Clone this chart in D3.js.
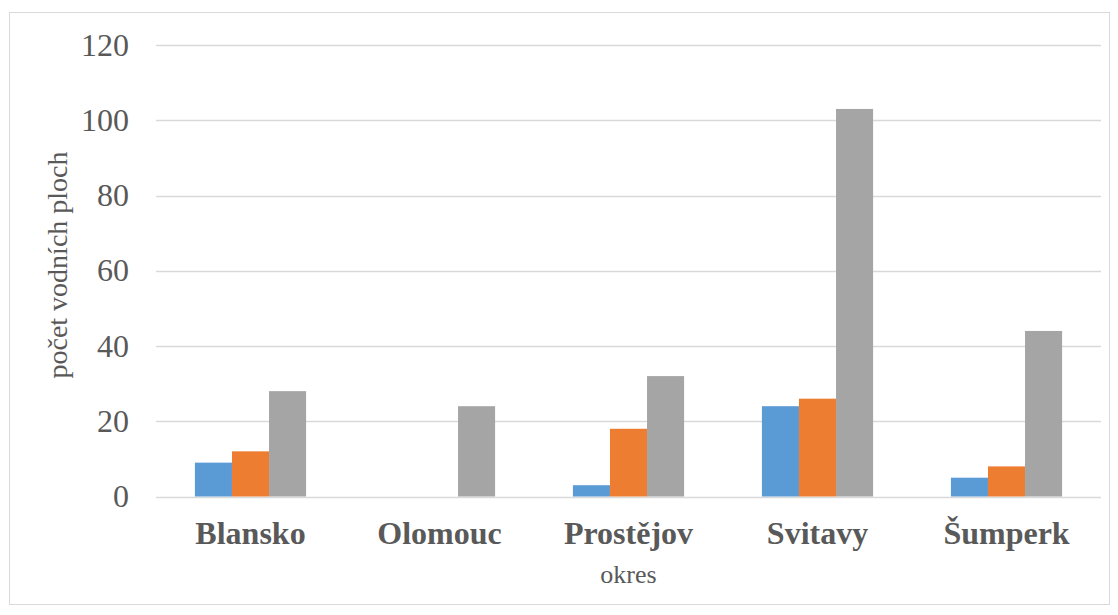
<!DOCTYPE html>
<html>
<head>
<meta charset="utf-8">
<script src="https://cdn.jsdelivr.net/npm/d3@7"></script>
<style>
    body { margin: 0; background: #fff; }
    text { font-family: "Liberation Serif", "Times New Roman", serif; }
</style>
</head>
<body>
<script>
// données
const okresy = ["Blansko", "Olomouc", "Prostějov", "Svitavy", "Šumperk"]
const rada1 = [9, 0, 3, 24, 5]
const rada2 = [12, 0, 18, 26, 8]
const rada3 = [28, 24, 32, 103, 44]
const tiky = [0, 20, 40, 60, 80, 100, 120]
const barvy = ["#5B9BD5", "#ED7D31", "#A5A5A5"]

const serie = [rada1, rada2, rada3]

let width = 1118, height = 615
let margin = { top: 45, right: 17, bottom: 118, left: 156 }

let svg = d3.select("body")
    .append("svg")
    .attr("width", width)
    .attr("height", height)

// rámeček grafu
svg.append("rect")
    .attr("x", 9.5).attr("y", 12.5)
    .attr("width", 1100).attr("height", 592)
    .attr("fill", "white")
    .attr("stroke", "#D9D9D9")

let x = d3.scaleBand()
    .domain(okresy)
    .range([margin.left, width - margin.right])

let xIn = d3.scaleBand()
    .domain([0, 1, 2])
    .range([0, x.bandwidth()])
    .paddingInner(0)
    .paddingOuter(1.05)

let y = d3.scaleLinear()
    .domain([0, 120])
    .range([height - margin.bottom - 0.5, margin.top])

// mřížka
svg.append("g")
    .selectAll("line")
    .data(tiky)
    .enter().append("line")
    .attr("x1", margin.left)
    .attr("x2", width - margin.right)
    .attr("y1", d => Math.round(y(d)) + 0.5)
    .attr("y2", d => Math.round(y(d)) + 0.5)
    .attr("stroke", "#D9D9D9")
    .attr("stroke-width", 1.3)

// popisky osy y
svg.append("g")
    .selectAll("text")
    .data(tiky)
    .enter().append("text")
    .attr("x", 129)
    .attr("y", d => y(d))
    .attr("dy", "0.33em")
    .attr("text-anchor", "end")
    .style("font-size", "32px")
    .style("fill", "#595959")
    .text(d => d)

// sloupce
serie.forEach((rada, s) => {
    svg.append("g")
        .selectAll("rect")
        .data(rada)
        .enter().append("rect")
        .attr("x", (d, i) => x(okresy[i]) + xIn(s))
        .attr("y", d => y(d))
        .attr("width", xIn.bandwidth())
        .attr("height", d => y(0) - y(d))
        .attr("fill", barvy[s])
})

// popisky kategorií
svg.append("g")
    .selectAll("text")
    .data(okresy)
    .enter().append("text")
    .attr("x", d => x(d) + x.bandwidth() / 2)
    .attr("y", 544)
    .attr("text-anchor", "middle")
    .style("font-size", "32px")
    .style("font-weight", "bold")
    .style("fill", "#595959")
    .text(d => d)

// názvy os
svg.append("text")
    .attr("x", (margin.left + width - margin.right) / 2)
    .attr("y", 583)
    .attr("text-anchor", "middle")
    .style("font-size", "26px")
    .style("fill", "#595959")
    .text("okres")

svg.append("text")
    .attr("transform", "translate(67," + 265 + ") rotate(-90)")
    .attr("text-anchor", "middle")
    .style("font-size", "28px")
    .style("fill", "#595959")
    .text("počet vodních ploch")
</script>
</body>
</html>
